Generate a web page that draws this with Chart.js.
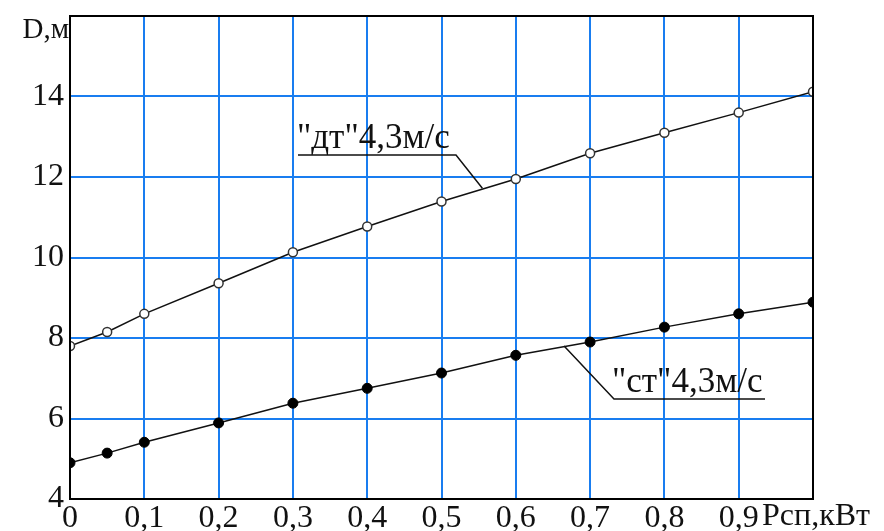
<!DOCTYPE html>
<html><head><meta charset="utf-8">
<script src="https://cdn.jsdelivr.net/npm/chart.js@4.4.1/dist/chart.umd.min.js"></script>
<style>html,body{margin:0;padding:0;background:#fff}#wrap{width:884px;height:531px}</style>
</head><body><div id="wrap"><canvas id="c" width="884" height="531"></canvas></div>
<script>
const xValues = [0, 0.05, 0.1, 0.2, 0.3, 0.4, 0.5, 0.6, 0.7, 0.8, 0.9, 1.0];
const dtValues = [7.8, 8.15, 8.6, 9.36, 10.13, 10.77, 11.39, 11.95, 12.59, 13.1, 13.6, 14.12];
const stValues = [4.9, 5.14, 5.41, 5.89, 6.38, 6.75, 7.13, 7.57, 7.9, 8.27, 8.6, 8.89];
const xTickLabels = ['0','0,1','0,2','0,3','0,4','0,5','0,6','0,7','0,8','0,9',''];
const yTickLabels = {4:'4',6:'6',8:'8',10:'10',12:'12',14:'14'};
const yAxisTitle = 'D,м';
const xAxisTitle = 'Pсп,кВт';
const dtLabel = '"дт"4,3м/с';
const stLabel = '"ст"4,3м/с';

const FONT = '"Liberation Serif","Times New Roman",serif';
const GRID = 'rgb(25,125,240)';

const pts = (ys) => xValues.map((x, i) => ({x, y: ys[i]}));

const decor = {
  id: 'decor',
  afterDatasetsDraw(chart) {
    const {ctx, chartArea: a, scales: {x, y}} = chart;
    ctx.save();
    ctx.strokeStyle = '#000';
    ctx.lineWidth = 2;
    ctx.strokeRect(a.left, a.top, a.right - a.left, a.bottom - a.top);
    ctx.fillStyle = '#111';
    ctx.font = '35px ' + FONT;
    ctx.textBaseline = 'alphabetic';
    ctx.textAlign = 'left';
    ctx.fillText(dtLabel, 297, 148);
    ctx.fillText(stLabel, 612, 392);
    ctx.lineWidth = 1.5;
    ctx.strokeStyle = '#111';
    ctx.beginPath();
    ctx.moveTo(298, 155); ctx.lineTo(456, 155); ctx.lineTo(x.getPixelForValue(0.555), y.getPixelForValue(11.72));
    ctx.moveTo(765, 399); ctx.lineTo(614, 399); ctx.lineTo(x.getPixelForValue(0.665), y.getPixelForValue(7.8));
    ctx.stroke();
    ctx.font = '29px ' + FONT;
    ctx.textAlign = 'right';
    ctx.textBaseline = 'alphabetic';
    ctx.fillText(yAxisTitle, 69, 38);
    ctx.font = '32px ' + FONT;
    ctx.textAlign = 'left';
    ctx.fillText(xAxisTitle, 762, 525);
    ctx.restore();
  }
};

new Chart(document.getElementById('c'), {
  type: 'scatter',
  data: {
    datasets: [
      {data: pts(dtValues), showLine: true, borderColor: '#111', borderWidth: 1.5,
       pointRadius: 4.5, pointBackgroundColor: '#fff', pointBorderColor: '#333', pointBorderWidth: 1.5},
      {data: pts(stValues), showLine: true, borderColor: '#111', borderWidth: 1.5,
       pointRadius: 5, pointBackgroundColor: '#000', pointBorderColor: '#000', pointBorderWidth: 1}
    ]
  },
  options: {
    responsive: false, animation: false,
    layout: {padding: {top: 16, right: 71, left: 0, bottom: 0}},
    plugins: {legend: {display: false}, tooltip: {enabled: false}},
    scales: {
      x: {
        type: 'linear', min: 0, max: 1,
        afterFit(s) { s.height = 32; s.paddingLeft = 0; s.paddingRight = 0; },
        afterBuildTicks(s) { s.ticks = xTickLabels.map((_, i) => ({value: i / 10})); },
        ticks: {padding: 0, color: '#111', font: {family: FONT, size: 32},
          callback: (v, i) => xTickLabels[i] ?? ''},
        grid: {color: GRID, lineWidth: 2, drawTicks: false},
        border: {display: false}
      },
      y: {
        type: 'linear', min: 4, max: 16,
        afterFit(s) { s.width = 70; s.paddingTop = 0; s.paddingBottom = 0; },
        afterBuildTicks(s) { s.ticks = Object.keys(yTickLabels).map(k => ({value: +k})); },
        ticks: {padding: 6, color: '#111', font: {family: FONT, size: 32},
          callback: (v) => yTickLabels[v] ?? ''},
        grid: {color: GRID, lineWidth: 2, drawTicks: false},
        border: {display: false}
      }
    }
  },
  plugins: [decor]
});
</script></body></html>
